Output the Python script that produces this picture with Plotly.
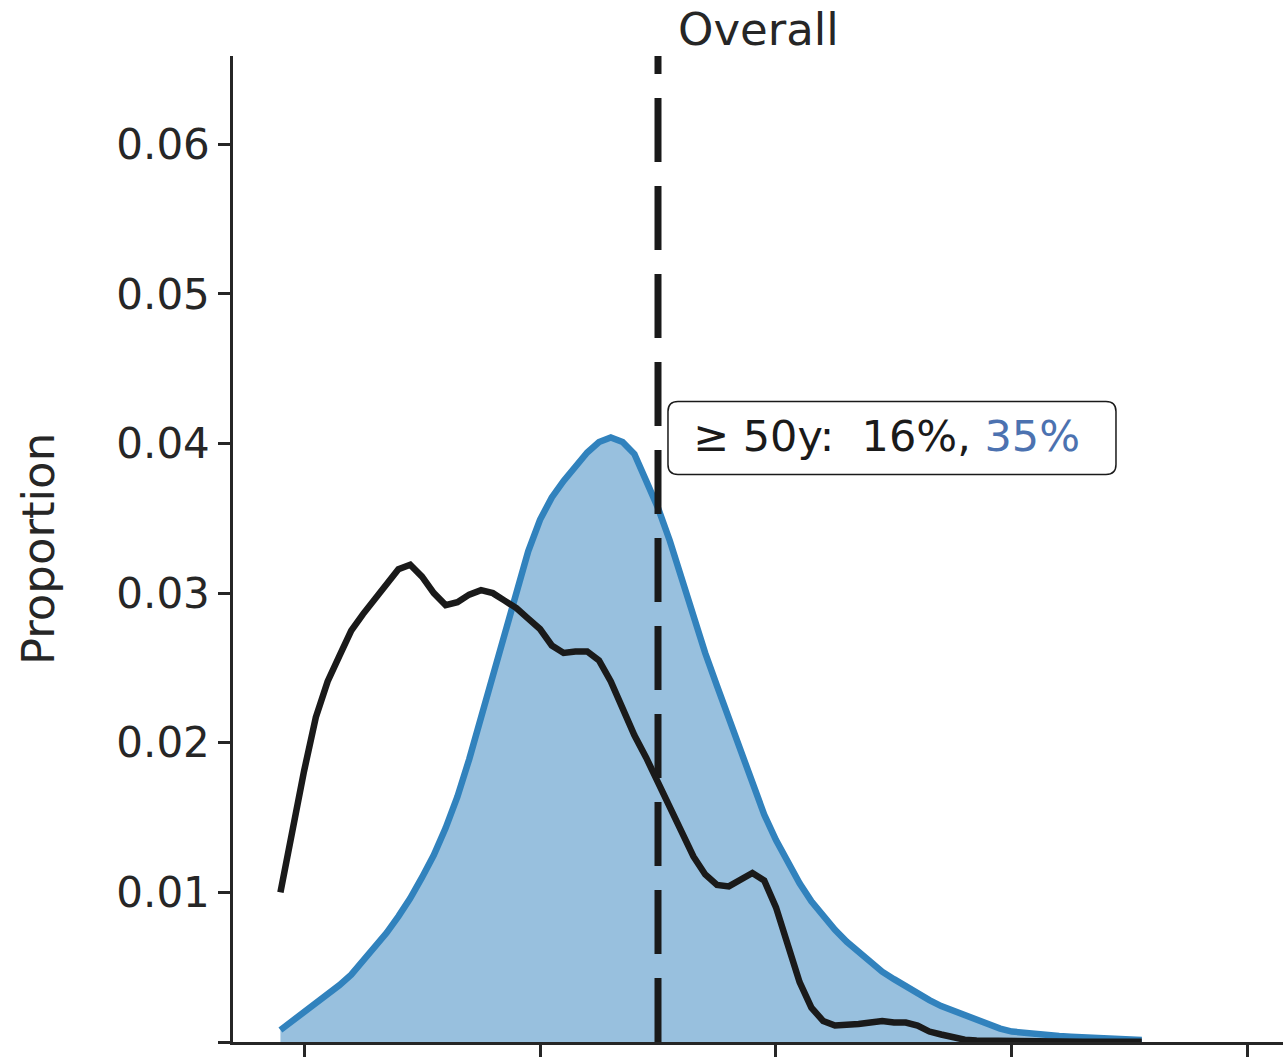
import plotly.graph_objects as go

ages = list(range(18, 92))

overall = [
    0.0100, 0.0142, 0.0181, 0.0217, 0.0241, 0.0258, 0.0275, 0.0286, 0.0296, 0.0306,
    0.0316, 0.0319, 0.0311, 0.0300, 0.0292, 0.0294, 0.0299, 0.0302, 0.0300, 0.0295,
    0.0290, 0.0283, 0.0276, 0.0265, 0.0260, 0.0261, 0.0261, 0.0255, 0.0241, 0.0223,
    0.0205, 0.0190, 0.0174, 0.0157, 0.0140, 0.0124, 0.0112, 0.0105, 0.0104, 0.0109,
    0.0113, 0.0108, 0.0090, 0.0065, 0.0040, 0.0023, 0.0014, 0.0011, 0.0011, 0.0012,
    0.0013, 0.0014, 0.0013, 0.0013, 0.0011, 0.0007, 0.0005, 0.0003, 0.00015, 0.0001,
    0.00008, 0.00006, 0.00005, 0.00004, 0.00004, 0.00003, 0.00003, 0.00003, 0.00002, 0.00002,
    0.00002, 0.00002, 0.00002, 0.00002,
]

comparison = [
    0.0008, 0.0014, 0.0019, 0.0025, 0.0031, 0.0038, 0.0045, 0.0054, 0.0064, 0.0073,
    0.0084, 0.0096, 0.0110, 0.0125, 0.0143, 0.0164, 0.0189, 0.0217, 0.0247, 0.0276,
    0.0302, 0.0328, 0.0349, 0.0364, 0.0375, 0.0385, 0.0394, 0.0401, 0.0404, 0.0401,
    0.0393, 0.0375, 0.0357, 0.0335, 0.0310, 0.0284, 0.0260, 0.0238, 0.0216, 0.0193,
    0.0172, 0.0152, 0.0135, 0.0120, 0.0106, 0.0094, 0.0084, 0.0075, 0.0067, 0.0060,
    0.0054, 0.0047, 0.0042, 0.0037, 0.0032, 0.0028, 0.0024, 0.0021, 0.0017, 0.0014,
    0.0011, 0.0009, 0.0007, 0.0006, 0.0005, 0.00045, 0.0004, 0.00035, 0.0003, 0.00026,
    0.00022, 0.00019, 0.00016, 0.00014,
]

x_ticks = [20, 40, 60, 80, 100]
y_ticks = [0, 0.01, 0.02, 0.03, 0.04, 0.05, 0.06]
y_tick_text = ["", "0.01", "0.02", "0.03", "0.04", "0.05", "0.06"]

threshold_age = 50
label_text = "≥\u00a050y:\u00a0\u00a016%,\u00a0"
label_value_blue = "35%"

AX = "#262626"
FONT = "DejaVu Sans"

fig = go.Figure()
fig.add_trace(go.Scatter(
    x=ages, y=comparison, mode="lines", fill="tozeroy",
    fillcolor="rgba(49,130,189,0.5)",
    line=dict(color="#3182bd", width=6.5),
    showlegend=False, hoverinfo="skip",
))
fig.add_trace(go.Scatter(
    x=ages, y=overall, mode="lines",
    line=dict(color="#1a1a1a", width=6.5),
    showlegend=False, hoverinfo="skip",
))

# dashed threshold line
fig.add_shape(type="line", xref="x", yref="paper", x0=threshold_age, x1=threshold_age,
              y0=0, y1=1, line=dict(color="#1a1a1a", width=7, dash="64px,24px"),
              layer="above")

# rounded box
W, H, R = 448, 73, 10
hw, hh = W / 2, H / 2
path = (f"M {-hw + R},{-hh} L {hw - R},{-hh} Q {hw},{-hh} {hw},{-hh + R} "
        f"L {hw},{hh - R} Q {hw},{hh} {hw - R},{hh} L {-hw + R},{hh} "
        f"Q {-hw},{hh} {-hw},{hh - R} L {-hw},{-hh + R} Q {-hw},{-hh} {-hw + R},{-hh} Z")
box_x = 69.83
box_y = 0.04037
fig.add_shape(type="path", xref="x", yref="y", xsizemode="pixel", ysizemode="pixel",
              xanchor=box_x, yanchor=box_y, path=path,
              line=dict(color="#1a1a1a", width=1.5), fillcolor="white", layer="above")

fig.add_annotation(x=box_x, y=box_y, xref="x", yref="y", showarrow=False,
                   text=f"{label_text}<span style='color:#4c72b0'>{label_value_blue}</span>",
                   font=dict(family=FONT, size=43, color="#1a1a1a"),
                   xanchor="center", yanchor="middle", xshift=-5, yshift=2)

fig.add_annotation(x=0.5, y=1.02637, xref="paper", yref="paper", showarrow=False,
                   text="Overall", font=dict(family=FONT, size=45, color=AX),
                   xanchor="center", yanchor="middle")

fig.add_annotation(x=-0.1857, y=0.5, xref="paper", yref="paper", showarrow=False,
                   text="Proportion", textangle=-90,
                   font=dict(family=FONT, size=45, color=AX),
                   xanchor="center", yanchor="middle")

fig.update_layout(
    width=1283, height=1059,
    margin=dict(l=233, r=0, t=56, b=17),
    paper_bgcolor="white", plot_bgcolor="white",
    font=dict(family=FONT, color=AX),
    xaxis=dict(range=[13.98, 102.97], tickvals=x_ticks, showticklabels=False,
               ticks="outside", ticklen=12, tickwidth=2.5, tickcolor=AX,
               showline=True, linewidth=2.5, linecolor=AX,
               showgrid=False, zeroline=False),
    yaxis=dict(range=[0, 0.0659], tickvals=y_ticks, ticktext=y_tick_text,
               ticks="outside", ticklen=12, tickwidth=2.5, tickcolor=AX,
               tickfont=dict(family=FONT, size=42, color=AX),
               showline=True, linewidth=2.5, linecolor=AX,
               showgrid=False, zeroline=False),
)

fig.write_html("out.html")
